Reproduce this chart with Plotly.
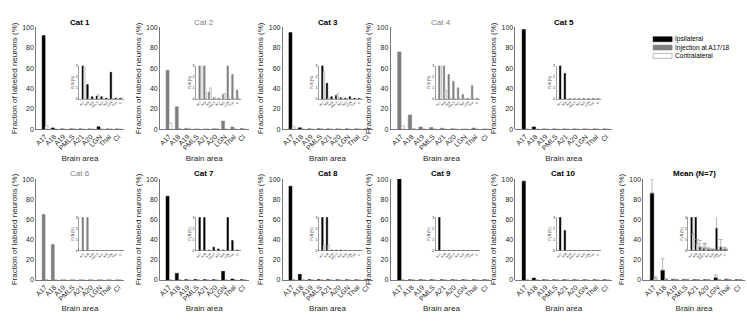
import plotly.graph_objects as go

W, H = 747, 323
FONT = "Liberation Sans, Arial, Helvetica, sans-serif"

areas = ["A17", "A18", "A19", "PMLS", "A21", "A20", "LGN", "Thal", "Cl"]
panel_titles = ["Cat 1", "Cat 2", "Cat 3", "Cat 4", "Cat 5",
                "Cat 6", "Cat 7", "Cat 8", "Cat 9", "Cat 10", "Mean (N=7)"]
injection_panels = ["Cat 2", "Cat 4", "Cat 6"]

cat1_ipsi = [92, 1.3, 0.2, 0.25, 0.2, 0.05, 2.4, 0.05, 0.05]
cat1_contra = [3.5, 0.1, 0.05, 0.4, 0.05, 0.05, 0.05, 0.1, 0.1]
cat2_ipsi = [58, 22, 0.6, 0.1, 0.05, 0.4, 8, 2.2, 0.8]
cat2_contra = [6, 0.6, 1.0, 0.1, 0.05, 0.5, 0.05, 0.05, 0.05]
cat3_ipsi = [95, 1.4, 0.2, 0.3, 0.1, 0.05, 0.2, 0.05, 0.05]
cat3_contra = [2.5, 0.1, 0.05, 0.5, 0.05, 0.05, 0.05, 0.05, 0.05]
cat4_ipsi = [76, 14, 2.2, 1.6, 1.0, 0.4, 0.05, 1.2, 0.05]
cat4_contra = [3.2, 0.8, 0.1, 0.05, 0.05, 0.05, 0, 0, 0]
cat5_ipsi = [98, 2.3, 0, 0, 0, 0, 0, 0, 0]
cat5_contra = [0, 0, 0, 0, 0, 0, 0, 0, 0]
cat6_ipsi = [65, 35, 0, 0, 0, 0, 0, 0, 0]
cat6_contra = [0, 0, 0, 0, 0, 0, 0, 0, 0]
cat7_ipsi = [83, 6.5, 0.05, 0.3, 0.15, 0.05, 8.5, 0.9, 0.05]
cat7_contra = [0, 0, 0, 0, 0, 0, 0, 0, 0]
cat8_ipsi = [93, 5.5, 0.05, 0.05, 0.05, 0, 0, 0, 0]
cat8_contra = [0.5, 0.5, 0.05, 0, 0, 0, 0, 0, 0]
cat9_ipsi = [100, 0, 0, 0, 0, 0, 0, 0, 0]
cat9_contra = [0, 0, 0, 0, 0, 0, 0, 0, 0]
cat10_ipsi = [98, 1.8, 0, 0, 0, 0, 0, 0, 0]
cat10_contra = [0, 0, 0, 0, 0, 0, 0, 0, 0]
mean_ipsi = [86, 9.5, 0.3, 0.2, 0.1, 0.05, 2.0, 0.3, 0.1]
mean_ipsi_err = [14, 11.5, 0.6, 0.4, 0.15, 0.1, 3.0, 0.7, 0.2]
mean_contra = [1.5, 0.6, 0.1, 0.2, 0.05, 0.05, 0.05, 0.05, 0.05]
mean_contra_err = [1.5, 0.4, 0.2, 0.45, 0.1, 0.05, 0.05, 0.1, 0.1]

ipsi_sets = [cat1_ipsi, cat2_ipsi, cat3_ipsi, cat4_ipsi, cat5_ipsi, cat6_ipsi,
             cat7_ipsi, cat8_ipsi, cat9_ipsi, cat10_ipsi, mean_ipsi]
contra_sets = [cat1_contra, cat2_contra, cat3_contra, cat4_contra, cat5_contra,
               cat6_contra, cat7_contra, cat8_contra, cat9_contra, cat10_contra,
               mean_contra]

legend_labels = ["Ipsilateral", "Injection at A17/18", "Contralateral"]

# layout geometry (pixels)
col_left = [35, 159, 282, 390, 515, 643]
col_right = [123, 248, 372, 492, 612, 745]
inset_left = [78, 195, 318, 435, 556, 688]
inset_w = [45, 45, 44, 45, 45, 40]
row_top = [24, 179]
row_bot = [128, 282]
inset_top = [63, 218]
inset_bot = [97, 252]
title_y = [19, 173]

BLACK = "#000000"
GRAY = "#7f7f7f"
AXC = "#404040"
TXT = "#262626"

xs = list(range(1, len(areas) + 1))

def fx(p):
    return p / W

def fy(p):
    return 1 - p / H

fig = go.Figure()
layout = {}
annotations = []

for k, title in enumerate(panel_titles):
    row = 0 if k < 5 else 1
    col = k if k < 5 else k - 5
    main_id = 2 * k + 1
    ins_id = 2 * k + 2
    inj = title in injection_panels
    color = GRAY if inj else BLACK
    is_mean = title.startswith("Mean")
    for axid in (main_id, ins_id):
        sfx = "" if axid == 1 else str(axid)
        ipsi_kw = dict(x=xs, y=ipsi_sets[k], marker=dict(color=color, line=dict(color=color, width=0.5)),
                       xaxis="x" + sfx, yaxis="y" + sfx, showlegend=False, offsetgroup="a")
        contra_kw = dict(x=xs, y=contra_sets[k], marker=dict(color="white", line=dict(color="#8c8c8c", width=0.5)),
                         xaxis="x" + sfx, yaxis="y" + sfx, showlegend=False, offsetgroup="b")
        if is_mean:
            ipsi_kw["error_y"] = dict(type="data", symmetric=False, array=mean_ipsi_err,
                                      arrayminus=[0] * 9, color="#8c8c8c", thickness=0.6, width=2)
            contra_kw["error_y"] = dict(type="data", symmetric=False, array=mean_contra_err,
                                        arrayminus=[0] * 9, color="#8c8c8c", thickness=0.6, width=2)
        fig.add_trace(go.Bar(**ipsi_kw))
        fig.add_trace(go.Bar(**contra_kw))

    # main axes
    mx = "xaxis" if main_id == 1 else f"xaxis{main_id}"
    my = "yaxis" if main_id == 1 else f"yaxis{main_id}"
    layout[mx] = dict(domain=[fx(col_left[col]), fx(col_right[col])], range=[0, 9.6],
                      anchor="y" if main_id == 1 else f"y{main_id}",
                      tickvals=xs, ticktext=areas, tickangle=-45, ticks="",
                      tickfont=dict(size=7, color=TXT, family=FONT),
                      showline=True, linecolor=AXC, linewidth=0.7, showgrid=False, zeroline=False,
                      title=dict(text="Brain area", font=dict(size=8, color=TXT, family=FONT), standoff=4))
    layout[my] = dict(domain=[fy(row_bot[row]), fy(row_top[row])], range=[0, 100],
                      anchor="x" if main_id == 1 else f"x{main_id}",
                      tickvals=[0, 20, 40, 60, 80, 100], ticks="",
                      tickfont=dict(size=7, color=TXT, family=FONT),
                      showline=True, linecolor=AXC, linewidth=0.7, showgrid=False, zeroline=False,
                      title=dict(text="Fraction of labeled neurons (%)",
                                 font=dict(size=8, color=TXT, family=FONT), standoff=3))
    # inset axes
    il = inset_left[col]
    layout[f"xaxis{ins_id}"] = dict(domain=[fx(il), fx(il + inset_w[col])], range=[0, 9.6],
                                    anchor=f"y{ins_id}", tickvals=xs, ticktext=areas, tickangle=-45,
                                    ticks="", tickfont=dict(size=3, color=TXT, family=FONT),
                                    showline=True, linecolor=AXC, linewidth=0.5,
                                    showgrid=False, zeroline=False)
    layout[f"yaxis{ins_id}"] = dict(domain=[fy(inset_bot[row]), fy(inset_top[row])], range=[0, 3],
                                    anchor=f"x{ins_id}", tickvals=[0, 1, 2, 3], ticks="",
                                    tickfont=dict(size=3.5, color=TXT, family=FONT),
                                    showline=True, linecolor=AXC, linewidth=0.5,
                                    showgrid=False, zeroline=False,
                                    title=dict(text="FLN (%)", font=dict(size=3.5, color=TXT, family=FONT),
                                               standoff=1))
    # panel title
    annotations.append(dict(
        x=fx((col_left[col] + col_right[col]) / 2), y=fy(title_y[row]),
        xref="paper", yref="paper", showarrow=False, xanchor="center", yanchor="middle",
        text=title if inj else f"<b>{title}</b>",
        font=dict(size=8, color=GRAY if inj else "#000000", family=FONT)))

# legend (drawn as shapes + text)
shapes = []
leg_fill = [BLACK, GRAY, "white"]
leg_line = [BLACK, GRAY, "#8c8c8c"]
leg_rows = [33.5, 42, 50.5]
for lab, fc, lc, yt in zip(legend_labels, leg_fill, leg_line, leg_rows):
    shapes.append(dict(type="rect", xref="paper", yref="paper",
                       x0=fx(653), x1=fx(672), y0=fy(yt + 5), y1=fy(yt),
                       fillcolor=fc, line=dict(color=lc, width=0.6)))
    annotations.append(dict(x=fx(673), y=fy(yt + 2.5), xref="paper", yref="paper",
                            showarrow=False, xanchor="left", yanchor="middle", text=lab,
                            font=dict(size=6.6, color="#000000", family=FONT)))

layout.update(dict(
    width=W, height=H, margin=dict(l=0, r=0, t=0, b=0),
    paper_bgcolor="white", plot_bgcolor="white",
    barmode="group", bargap=0.35, bargroupgap=0,
    font=dict(family=FONT, color=TXT),
    annotations=annotations, shapes=shapes, showlegend=False,
))
fig.update_layout(**layout)
fig.write_html("out.html", config={"displayModeBar": False, "staticPlot": True},
               post_script="document.body.style.margin='0';document.body.style.overflow='hidden';")
